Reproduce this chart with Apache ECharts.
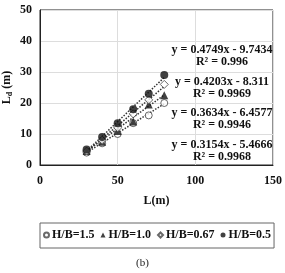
<!DOCTYPE html>
<html>
<head>
<meta charset="utf-8">
<script src="https://cdn.jsdelivr.net/npm/echarts@6/dist/echarts.min.js"></script>
<style>
  html, body { margin: 0; padding: 0; background: #fff; }
  #chart { width: 285px; height: 273px; }
</style>
</head>
<body>
<div id="chart"></div>
<script>
// 数据
var lengths = [30, 40, 50, 60, 70, 80];
var hb15 = [4, 7, 10, 13.5, 16, 20];
var hb10 = [4.5, 7.5, 11, 14, 19.5, 22.5];
var hb067 = [4.5, 8, 12, 16.5, 21, 26];
var hb05 = [5, 9, 13.5, 18, 23, 29];

var names = ['H/B=1.5', 'H/B=1.0', 'H/B=0.67', 'H/B=0.5'];
var slopes = [0.3154, 0.3634, 0.4203, 0.4749];
var intercepts = [-5.4666, -6.4577, -8.311, -9.7434];
var r2 = ['0.9968', '0.9946', '0.9969', '0.996'];
var fitRange = [30, 80];

var font = 'Liberation Serif';

function pairs(ys) {
    var arr = [];
    for (var i = 0; i < lengths.length; i++) {
        arr.push([lengths[i], ys[i]]);
    }
    return arr;
}

function trend(k) {
    return fitRange.map(function (x) {
        return [x, slopes[k] * x + intercepts[k]];
    });
}

var myChart = echarts.init(document.getElementById('chart'));

var series = [];
// 趋势线
for (var k = 0; k < 4; k++) {
    series.push({
        type: 'line',
        data: trend(k),
        symbol: 'none',
        silent: true,
        lineStyle: {color: '#333', width: 1.5, type: 'dotted'},
        z: 1
    });
}
series.push(
    {
        name: names[0], type: 'scatter', data: pairs(hb15), symbol: 'circle', symbolSize: 7,
        itemStyle: {color: '#fff', borderColor: '#444', borderWidth: 1}, z: 3
    },
    {
        name: names[1], type: 'scatter', data: pairs(hb10), symbol: 'triangle', symbolSize: 8,
        itemStyle: {color: '#111'}, z: 3
    },
    {
        name: names[2], type: 'scatter', data: pairs(hb067), symbol: 'diamond', symbolSize: 8,
        itemStyle: {color: '#fff', borderColor: '#444', borderWidth: 1}, z: 3
    },
    {
        name: names[3], type: 'scatter', data: pairs(hb05), symbol: 'circle', symbolSize: 8,
        itemStyle: {color: '#111'}, z: 4
    }
);

// 公式文字
var eqY = [139, 107, 76, 44];
var texts = [];
for (var j = 0; j < 4; j++) {
    texts.push({
        type: 'text',
        x: 222,
        y: eqY[j],
        style: {
            text: 'y = ' + slopes[j] + 'x - ' + Math.abs(intercepts[j]) + '\n' + 'R² = ' + r2[j],
            fill: '#111',
            font: 'bold 12px ' + font,
            align: 'center',
            verticalAlign: 'top',
            lineHeight: 12
        },
        z: 10
    });
}

var option = {
    animation: false,
    backgroundColor: '#fff',
    grid: {
        left: 40, right: 12, top: 10, bottom: 108,
        outerBoundsMode: 'none',
        show: true, borderColor: '#222', borderWidth: 1
    },
    title: {
        text: '(b)',
        left: 'center',
        top: 253,
        textStyle: {fontFamily: font, fontSize: 11, fontWeight: 'normal', color: '#222'}
    },
    legend: {
        data: names,
        left: 40,
        top: 223,
        width: 237,
        height: 14,
        padding: [6, 3, 7, 3],
        borderColor: '#666',
        borderWidth: 1,
        itemWidth: 5,
        itemHeight: 5,
        itemGap: 6,
        textStyle: {fontFamily: font, fontSize: 12, fontWeight: 'bold', color: '#111', padding: [0, 0, 0, -2]}
    },
    xAxis: {
        type: 'value',
        min: 0,
        max: 150,
        interval: 50,
        name: 'L(m)',
        nameLocation: 'middle',
        nameGap: 30,
        nameMoveOverlap: false,
        nameTextStyle: {fontFamily: font, fontSize: 12, fontWeight: 'bold', color: '#111'},
        axisLine: {show: true, lineStyle: {color: '#222'}},
        axisTick: {show: false},
        axisLabel: {fontFamily: font, fontSize: 12, fontWeight: 'bold', color: '#111', margin: 10},
        splitLine: {show: true, lineStyle: {color: '#ddd'}}
    },
    yAxis: {
        type: 'value',
        min: 0,
        max: 50,
        interval: 10,
        name: '{a|L}{b|d}{a| (m)}',
        nameLocation: 'middle',
        nameGap: 26,
        nameRotate: 90,
        nameMoveOverlap: false,
        nameTextStyle: {
            rich: {
                a: {fontFamily: font, fontSize: 12, fontWeight: 'bold', color: '#111'},
                b: {fontFamily: font, fontSize: 8, fontWeight: 'bold', color: '#111', verticalAlign: 'bottom', padding: [6, 0, 0, 0]}
            }
        },
        axisLine: {show: true, lineStyle: {color: '#222'}},
        axisTick: {show: false},
        axisLabel: {fontFamily: font, fontSize: 12, fontWeight: 'bold', color: '#111', margin: 8},
        splitLine: {show: true, lineStyle: {color: '#ddd'}}
    },
    graphic: texts,
    series: series
};

myChart.setOption(option);
</script>
</body>
</html>
